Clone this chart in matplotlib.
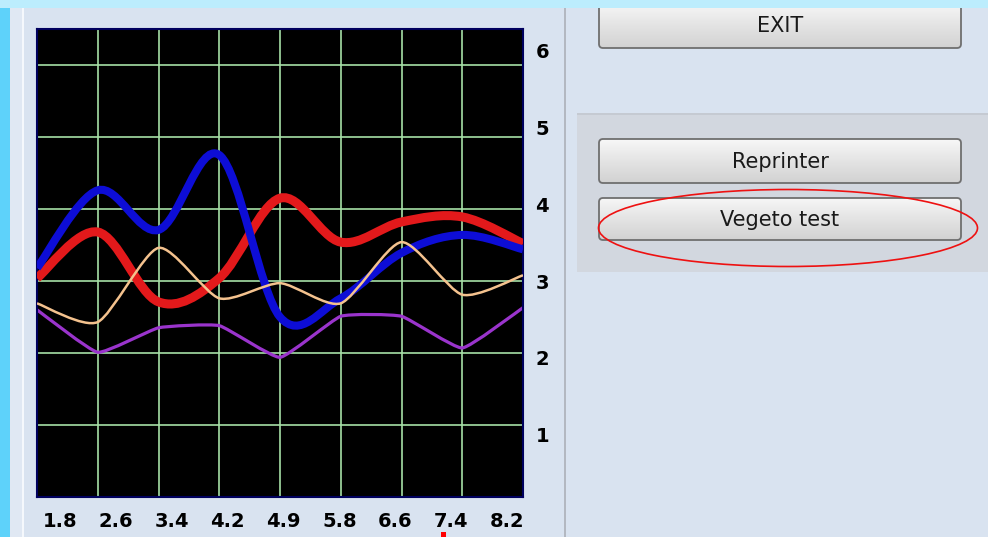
import numpy as np
import matplotlib
matplotlib.use('Agg')
import matplotlib.pyplot as plt
from matplotlib.path import Path
from matplotlib.patches import PathPatch, Rectangle, FancyBboxPatch, Ellipse
from matplotlib.transforms import IdentityTransform
from matplotlib.colors import LinearSegmentedColormap

# values
x_labels = ['1.8', '2.6', '3.4', '4.2', '4.9', '5.8', '6.6', '7.4', '8.2']
y_labels = ['1', '2', '3', '4', '5', '6']
red_vals = [3.04, 3.68, 2.71, 3.04, 4.15, 3.54, 3.82, 3.89, 3.52]
blue_vals = [3.18, 4.26, 3.71, 4.75, 2.50, 2.76, 3.39, 3.64, 3.44]
tan_vals = [2.69, 2.43, 3.46, 2.76, 2.97, 2.69, 3.54, 2.81, 3.08]
purple_vals = [2.60, 2.01, 2.35, 2.38, 1.94, 2.51, 2.51, 2.07, 2.63]
buttons = ['EXIT', 'Reprinter', 'Vegeto test']

W, H = 988, 537
fig = plt.figure(figsize=(W / 100, H / 100), dpi=100)
fig.patch.set_facecolor('#d9e3f0')
px = IdentityTransform()


def box(x0, y0, x1, y1, color, z=-1):
    # pixel box, y measured from the top
    fig.add_artist(Rectangle((x0, H - y1), x1 - x0, y1 - y0, transform=px,
                             facecolor=color, edgecolor='none', zorder=z))


def curve(vals, tension):
    pts = np.column_stack([np.arange(len(vals)), vals]).astype(float)
    n = len(pts)
    verts = [pts[0]]
    codes = [Path.MOVETO]
    for i in range(n - 1):
        a = pts[max(i - 1, 0)]
        p0 = pts[i]
        p1 = pts[i + 1]
        b = pts[min(i + 2, n - 1)]
        verts += [p0 + tension * (p1 - a) / 3, p1 - tension * (b - p0) / 3, p1]
        codes += [Path.CURVE4] * 3
    return Path(verts, codes)


# window background bits
box(0, 0, 10, H, '#5ed2fa')
box(10, 0, 22, H, '#e0e8f3')
box(22, 0, 24, H, '#f5f8fc')
box(564, 0, 566, H, '#b3b8c1')
box(577, 113, W, 272, '#d2d7df')
box(577, 113, W, 115, '#c5cad2')

# chart
ax = fig.add_axes([37 / W, (H - 497) / H, 486 / W, 468 / H])
ax.set_facecolor('black')
ax.set_xlim(0, 8)
ax.set_ylim(0, 6.5)
ax.set_xticks(range(1, 8))
ax.set_yticks(range(1, 7))
ax.tick_params(length=0, labelbottom=False, labelleft=False)
ax.grid(color='#a6e0a6', lw=1.2)
for s in ax.spines.values():
    s.set_color('#00005e')
    s.set_linewidth(1.5)

ax.add_patch(PathPatch(curve(purple_vals, 0.2), fill=False, ec='#9a34cc', lw=2.3, zorder=2))
ax.add_patch(PathPatch(curve(red_vals, 0.5), fill=False, ec='#e3191b', lw=6.5, zorder=3))
ax.add_patch(PathPatch(curve(blue_vals, 0.5), fill=False, ec='#0d0dd6', lw=5.8, zorder=4))
ax.add_patch(PathPatch(curve(tan_vals, 0.35), fill=False, ec='#f4c28e', lw=1.8, zorder=5))

# the labels in the screenshot do not sit on the grid lines
ay = ax.twinx()
ay.set_ylim(0.19, 6.28)
ay.set_yticks(range(1, 7))
ay.set_yticklabels(y_labels, fontsize=14, fontweight='bold', color='black')
ay.tick_params(length=0, pad=9)
for s in ay.spines.values():
    s.set_visible(False)

axx = ax.twiny()
axx.set_xlim(-0.41, 8.28)
axx.set_xticks(range(len(x_labels)))
axx.set_xticklabels(x_labels, fontsize=14, fontweight='bold', color='black')
axx.xaxis.set_ticks_position('bottom')
axx.xaxis.set_label_position('bottom')
axx.tick_params(length=0, pad=11)
for s in axx.spines.values():
    s.set_visible(False)

# buttons
grad = LinearSegmentedColormap.from_list('btn', ['#f7f7f7', '#e4e4e4', '#d2d2d2'])
for name, (y0, y1) in zip(buttons, [(2, 48), (139, 183), (198, 240)]):
    x0, x1 = 599, 961
    edge = FancyBboxPatch((x0, H - y1), x1 - x0, y1 - y0,
                          boxstyle='round,pad=0,rounding_size=4', transform=px,
                          facecolor='none', edgecolor='#6f6f6f', lw=1.3, zorder=2)
    bax = fig.add_axes([x0 / W, (H - y1) / H, (x1 - x0) / W, (y1 - y0) / H])
    bax.axis('off')
    im = bax.imshow(np.linspace(0, 1, 60)[:, None], cmap=grad, aspect='auto')
    im.set_clip_path(edge)
    fig.add_artist(edge)
    fig.text((x0 + x1) / 2, H - (y0 + y1) / 2 - 1, name, transform=px,
             ha='center', va='center', fontsize=15, color='#1a1a1a', zorder=3)

box(0, 0, W, 8, '#bcedfd', z=5)

fig.add_artist(Ellipse((788, H - 228), 379, 77, transform=px, fill=False,
                       ec='#ee1111', lw=1.2, zorder=6))
box(441, 532, 446, H, '#ff0000', z=6)

fig.savefig('out.png', dpi=100)
